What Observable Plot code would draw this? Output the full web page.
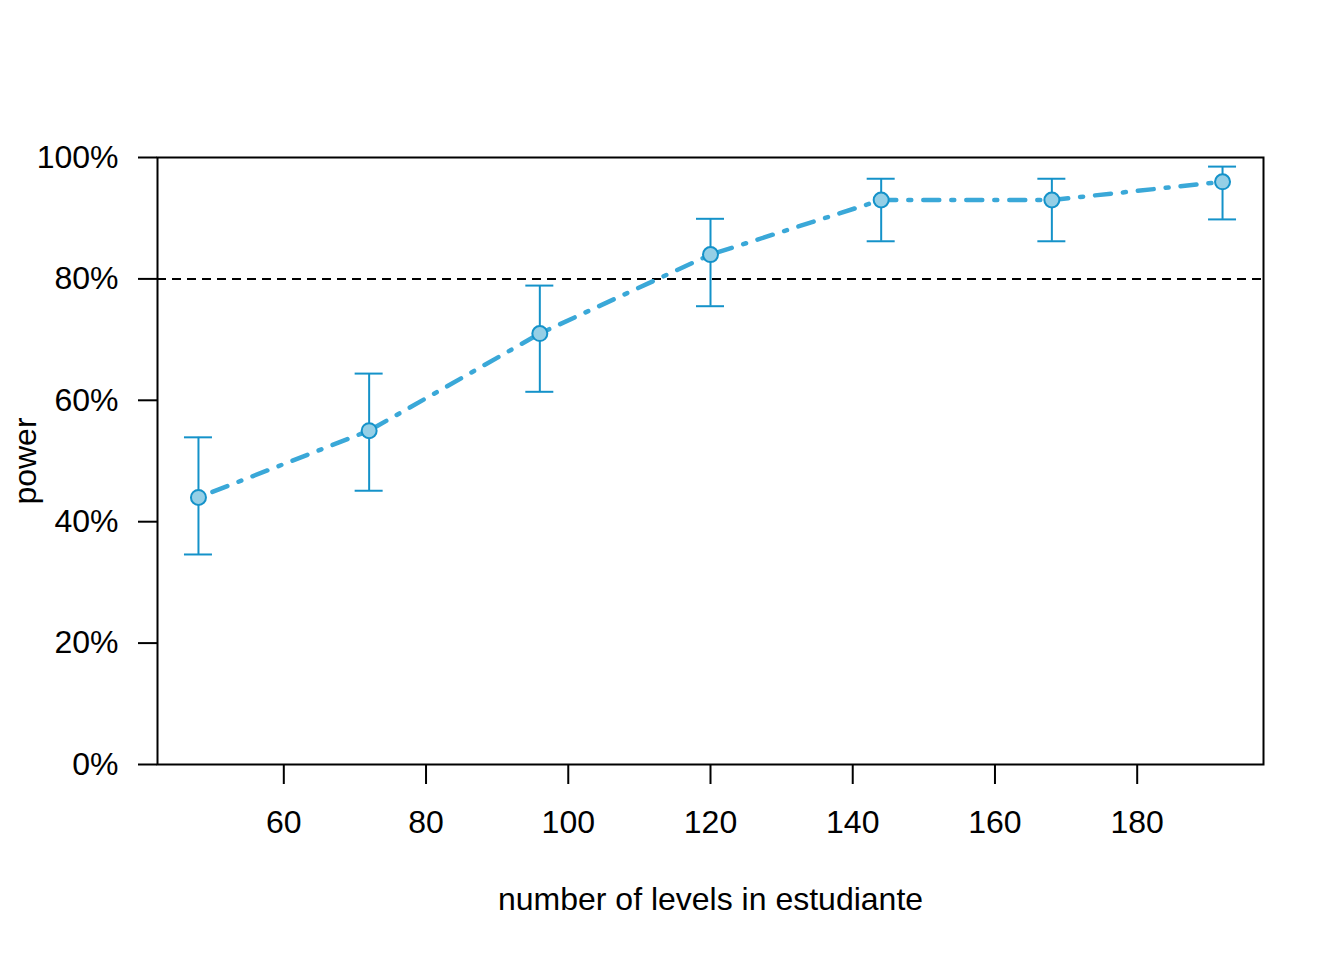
<!DOCTYPE html>
<html>
<head>
<meta charset="utf-8">
<script src="https://cdn.jsdelivr.net/npm/d3@7"></script>
<script src="https://cdn.jsdelivr.net/npm/@observablehq/plot@0.6"></script>
<style>
  html, body { margin: 0; padding: 0; background: #fff; }
</style>
</head>
<body>
<div id="chart"></div>
<script>
const levels = [48, 72, 96, 120, 144, 168, 192];
const power = [0.44, 0.55, 0.71, 0.84, 0.93, 0.93, 0.96];
const lower = [0.346, 0.451, 0.614, 0.755, 0.862, 0.862, 0.898];
const upper = [0.539, 0.644, 0.789, 0.899, 0.965, 0.965, 0.985];
const xTicks = [60, 80, 100, 120, 140, 160, 180];
const yTicks = [0, 0.2, 0.4, 0.6, 0.8, 1];
const target = [0.8];
const xLabel = "number of levels in estudiante";
const yLabel = "power";

const data = levels.map((x, i) => ({x, p: power[i], lo: lower[i], hi: upper[i]}));

const lineColor = "#3aa8d8";
const barColor = "#1492c9";
const fillColor = "#95cfe6";

const chart = Plot.plot({
  width: 1344,
  height: 960,
  marginLeft: 157,
  marginRight: 81,
  marginTop: 157,
  marginBottom: 196,
  style: {fontFamily: "'Liberation Sans', Arial, sans-serif", fontSize: "32px", background: "#fff", color: "#000"},
  x: {domain: [42.24, 197.76]},
  y: {domain: [0, 1]},
  marks: [
    Plot.ruleY(target, {stroke: "black", strokeWidth: 2, strokeDasharray: "9 6"}),
    Plot.line(data, {x: "x", y: "p", stroke: lineColor, strokeWidth: 4.5, strokeDasharray: "3 12 16 12", strokeLinecap: "round"}),
    Plot.ruleX(data, {x: "x", y1: "lo", y2: "hi", stroke: barColor, strokeWidth: 2}),
    Plot.ruleY(data, {y: "lo", x1: "x", x2: "x", insetLeft: -14, insetRight: -14, stroke: barColor, strokeWidth: 2}),
    Plot.ruleY(data, {y: "hi", x1: "x", x2: "x", insetLeft: -14, insetRight: -14, stroke: barColor, strokeWidth: 2}),
    Plot.dot(data, {x: "x", y: "p", r: 7.5, fill: fillColor, stroke: barColor, strokeWidth: 2}),
    Plot.frame({stroke: "black", strokeWidth: 2}),
    Plot.axisX({ticks: xTicks, tickSize: 20, tickPadding: 26, strokeWidth: 2, label: null, tickFormat: d => String(d)}),
    Plot.axisY({ticks: yTicks, tickSize: 19, tickPadding: 20, strokeWidth: 2, label: null, tickFormat: d => Math.round(d * 100) + "%"}),
    Plot.text([xLabel], {frameAnchor: "bottom", dy: 135, text: d => d, fontSize: 32, lineAnchor: "middle"}),
    Plot.text([yLabel], {frameAnchor: "left", dx: -132, rotate: -90, text: d => d, fontSize: 32, textAnchor: "middle", lineAnchor: "middle"})
  ]
});
document.getElementById("chart").appendChild(chart);
</script>
</body>
</html>
